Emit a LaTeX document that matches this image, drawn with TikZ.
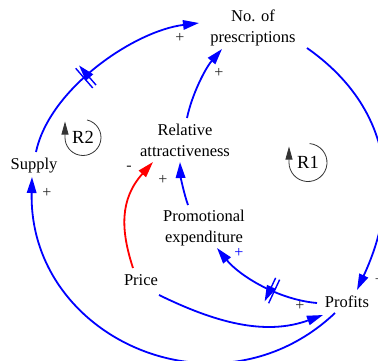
\documentclass[tikz,border=0pt]{standalone}
\usepackage{fontspec}
\setmainfont{Liberation Serif}
\usetikzlibrary{arrows.meta,decorations.markings}
\begin{document}
\begin{tikzpicture}[x=1pt,y=1pt,
  lbl/.style={font=\fontsize{16.5}{21}\selectfont, align=center, inner sep=0pt},
  rlbl/.style={font=\fontsize{18.5}{20}\selectfont, inner sep=0pt},
  sgn/.style={font=\fontsize{16}{16}\selectfont, text=black!85, inner sep=0pt},
  conn/.style={draw=blue, line width=1.8pt, -{Triangle[length=16pt,width=9.5pt]}},
  redconn/.style={draw=red, line width=1.8pt, -{Triangle[length=16pt,width=9.5pt]}},
  loopline/.style={draw=black!80, line width=0.8pt, -{Triangle[length=13pt,width=7pt]}},
  hashln/.style={draw=blue, line width=1.4pt},
  hashat/.style={postaction={decorate}, decoration={markings, mark=at position #1 with {\draw[hashln] (-2.2pt,-13pt) -- (-2.2pt,13pt) (2.2pt,-13pt) -- (2.2pt,13pt);}}}
]
\useasboundingbox (0,0) rectangle (378,-360);

% variables
\node[lbl] (nop) at (253,-27.6) {No. of\\prescriptions};
\node[lbl] (rel) at (185,-140.85) {Relative\\attractiveness};
\node[lbl] (supply) at (34,-165.2) {Supply};
\node[lbl] (promo) at (204,-228.2) {Promotional\\expenditure};
\node[lbl] (price) at (141,-280.35) {Price};
\node[lbl] (profits) at (347,-301.35) {Profits};

% loop markers
\node[rlbl] (r2) at (83,-137.5) {R2};
\draw[loopline] ([shift={(77:18)}]r2.center) arc[start angle=77, end angle=-180, radius=18] -- ++(0,16);
\node[rlbl] (r1) at (308,-162.5) {R1};
\draw[loopline] ([shift={(85:19)}]r1.center) arc[start angle=85, end angle=-180, radius=19] -- ++(0,16);

% connectors
\draw[conn, hashat=0.42] ([shift={(2,13.2)}]supply.center) .. controls +(13.5,63.6) and +(-64.5,-7.9) .. ([shift={(-54,4.6)}]nop.center);
\draw[conn] ([shift={(2,22.85)}]rel.center) .. controls +(5.2,24.5) and +(-16.4,-18.9) .. ([shift={(-31,-21.4)}]nop.center);
\draw[conn] ([shift={(54,-20.4)}]nop.center) .. controls +(81.9,-57.4) and +(46.5,99.7) .. ([shift={(10,11.35)}]profits.center);
\draw[conn] ([shift={(-12,-11.65)}]profits.center) .. controls +(-116.2,-110) and +(-3.6,-162) .. ([shift={(-2,-11.8)}]supply.center);
\draw[conn] ([shift={(18,-14.65)}]price.center) .. controls +(55.7,-27.2) and +(-58.3,-21.2) .. ([shift={(-24,-13.65)}]profits.center);
\draw[conn, hashat=0.40] ([shift={(-30,-1.65)}]profits.center) .. controls +(-39.8,3.5) and +(22,-27.2) .. ([shift={(13,-19.8)}]promo.center);
\draw[redconn] ([shift={(-8,12.35)}]price.center) .. controls +(-12.4,38) and +(-33.4,-37.2) .. ([shift={(-32,-21.15)}]rel.center);
\draw[conn] ([shift={(-16,23.2)}]promo.center) .. controls +(-4.1,11.3) and +(0.5,-14) .. ([shift={(-5,-21.15)}]rel.center);

% polarity signs
\node[sgn] (s1) at (180,-38) {+};
\node[sgn] (s2) at (219,-73) {+};
\node[sgn] (s3) at (379.5,-280) {+};
\node[sgn] (s4) at (47,-193) {+};
\node[sgn] (s5) at (300,-306) {+};
\node[sgn, text=blue] (s6) at (239,-253) {+};
\node[sgn] (s7) at (129,-168) {-};
\node[sgn] (s8) at (163,-180) {+};
\end{tikzpicture}
\end{document}
